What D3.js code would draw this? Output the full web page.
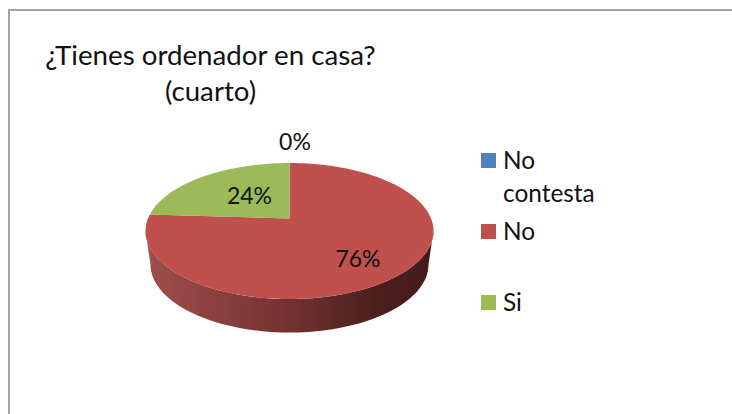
<!DOCTYPE html>
<html>
<head>
<meta charset="utf-8">
<script src="https://cdn.jsdelivr.net/npm/d3@7"></script>
<style>
  html, body { margin: 0; padding: 0; background: #fff; overflow: hidden; }
  text { font-family: Lato, "Open Sans", sans-serif; fill: #111; }
</style>
</head>
<body>
<script>
// values
var categories = ["No contesta", "No", "Si"];
var values = [0, 76, 24];
var colors = ["#4F81BD", "#C0504D", "#9BBB59"];
var titleLines = ["¿Tienes ordenador en casa?", "(cuarto)"];
var legendLines = [["No", "contesta"], ["No"], ["Si"]];

var width = 732, height = 414;

// top face ellipse, and how far the centre is pushed back by the perspective
var cx = 289.5, cy = 231, rx = 144, ry = 68, tilt = 0.184;
// bottom edge of the wall
var wallCy = 264.5, wallRx = 139, wallRy = 68;

var svg = d3.select("body").append("svg")
    .attr("width", width)
    .attr("height", height)
    .style("display", "block");

// frame, only top and left show up in the picture
svg.append("path")
    .attr("d", "M9," + height + "V10H" + width)
    .attr("fill", "none")
    .attr("stroke", "#a3a3a3")
    .attr("stroke-width", 2);

svg.selectAll(".title")
    .data(titleLines)
    .enter()
    .append("text")
        .attr("class", "title")
        .attr("x", 210.5)
        .attr("y", function(d, i) { return 65 + i * 36; })
        .attr("text-anchor", "middle")
        .style("font-size", "27.7px")
        .text(function(d) { return d; });

// flat pie point -> screen point, radius 0..1 and angle clockwise from the top
function project(r, a) {
    var u = r * Math.sin(a),
        v = r * Math.cos(a),
        w = 1 + tilt * v;
    return [
        cx + rx * u * Math.sqrt(1 - tilt * tilt) / w,
        cy - ry * (v + tilt) / w
    ];
}

var pie = d3.pie().sort(null).value(function(d) { return d; });
var arcs = pie(values);

var defs = svg.append("defs");
var wallGradient = defs.append("linearGradient")
    .attr("id", "wall")
    .attr("x1", 0).attr("x2", 1).attr("y1", 0).attr("y2", 0);
[["0", "#a14e4c"], ["0.5", "#733230"], ["0.8", "#4c1f1d"], ["1", "#451b19"]].forEach(function(s) {
    wallGradient.append("stop").attr("offset", s[0]).attr("stop-color", s[1]);
});

// wall: front half of the top ellipse, back along the lower ellipse
var wallLine = d3.line();
var wallPoints = d3.range(0, 181, 3).map(function(t) {
    var a = t * Math.PI / 180;
    return [cx + rx * Math.cos(a), cy + ry * Math.sin(a)];
}).concat(d3.range(180, -1, -3).map(function(t) {
    var a = t * Math.PI / 180;
    return [cx + wallRx * Math.cos(a), wallCy + wallRy * Math.sin(a)];
}));
svg.append("path")
    .attr("d", wallLine(wallPoints) + "Z")
    .attr("fill", "url(#wall)");

// top face slices
svg.selectAll(".slice")
    .data(arcs)
    .enter()
    .append("path")
        .attr("class", "slice")
        .attr("fill", function(d, i) { return colors[i]; })
        .attr("d", function(d) {
            var pts = [project(0, 0)];
            var n = Math.max(1, Math.ceil((d.endAngle - d.startAngle) * 40));
            for (var i = 0; i <= n; i++) {
                pts.push(project(1, d.startAngle + (d.endAngle - d.startAngle) * i / n));
            }
            return d3.line()(pts) + "Z";
        });

// data labels
var labelX = [295, 358, 249.5];
var labelY = [150, 267, 204];
svg.selectAll(".pct")
    .data(values)
    .enter()
    .append("text")
        .attr("class", "pct")
        .attr("x", function(d, i) { return labelX[i]; })
        .attr("y", function(d, i) { return labelY[i]; })
        .attr("text-anchor", "middle")
        .style("font-size", "23px")
        .text(function(d) { return d + "%"; });

// legend
var legendY = d3.scalePoint().domain(categories).range([153, 295]);
var legend = svg.selectAll(".legend")
    .data(categories)
    .enter()
    .append("g")
        .attr("class", "legend")
        .attr("transform", function(d) { return "translate(481," + legendY(d) + ")"; });

legend.append("rect")
    .attr("width", 15)
    .attr("height", 15)
    .attr("fill", function(d, i) { return colors[i]; });

legend.each(function(d, i) {
    d3.select(this).selectAll("text")
        .data(legendLines[i])
        .enter()
        .append("text")
            .attr("x", 22)
            .attr("y", function(t, j) { return 15.5 + j * 33; })
            .style("font-size", "24.4px")
            .text(function(t) { return t; });
});
</script>
</body>
</html>
